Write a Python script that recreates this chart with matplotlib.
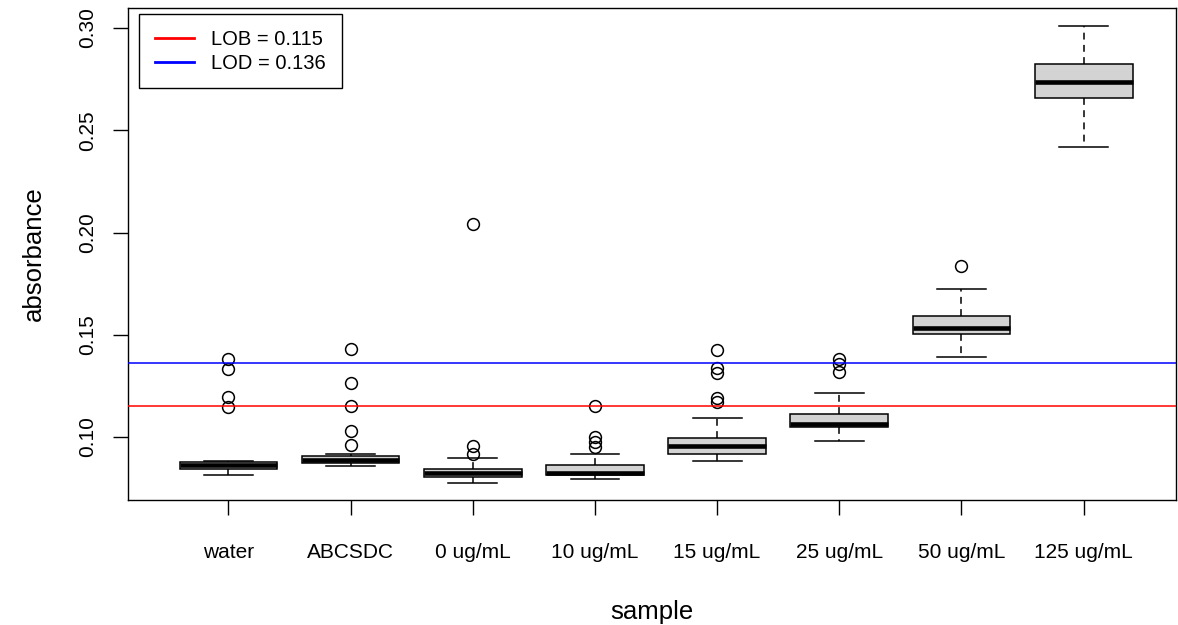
import matplotlib
matplotlib.use("Agg")
import matplotlib.pyplot as plt
from matplotlib.lines import Line2D

plt.rcParams['font.family'] = ['Liberation Sans', 'DejaVu Sans']

labels = ["water", "ABCSDC", "0 ug/mL", "10 ug/mL", "15 ug/mL", "25 ug/mL", "50 ug/mL", "125 ug/mL"]
q1 = [0.0845, 0.0871, 0.0803, 0.0813, 0.0917, 0.1047, 0.1504, 0.2656]
med = [0.0863, 0.0889, 0.0826, 0.0826, 0.0957, 0.1065, 0.1531, 0.2738]
q3 = [0.0878, 0.0907, 0.0845, 0.0863, 0.0995, 0.1112, 0.1592, 0.2826]
whislo = [0.0816, 0.0857, 0.0777, 0.0796, 0.0883, 0.0982, 0.1393, 0.2420]
whishi = [0.0884, 0.0915, 0.0896, 0.0915, 0.1094, 0.1214, 0.1722, 0.3010]
fliers = [
    [0.1380, 0.1331, 0.1197, 0.1145],
    [0.1430, 0.1266, 0.1152, 0.1029, 0.0961],
    [0.2040, 0.0957, 0.0917],
    [0.1153, 0.0999, 0.0974, 0.0953],
    [0.1425, 0.1336, 0.1311, 0.1189, 0.1173],
    [0.1380, 0.1355, 0.1320],
    [0.1838],
    [],
]
lob = 0.115
lod = 0.136

stats = []
for i in range(len(labels)):
    stats.append(dict(label=labels[i], q1=q1[i], med=med[i], q3=q3[i],
                      whislo=whislo[i], whishi=whishi[i], fliers=fliers[i]))

fig = plt.figure(figsize=(11.78, 6.25), dpi=100)
W, H = 1178, 625
L, R, T, B = 128, 1176, 8, 500
ax = fig.add_axes([L / W, 1 - B / H, (R - L) / W, (B - T) / H])

positions = list(range(1, len(labels) + 1))
ax.bxp(stats, positions=positions, widths=0.8, patch_artist=True,
       boxprops=dict(facecolor="#D3D3D3", edgecolor="black", linewidth=1.1),
       medianprops=dict(color="black", linewidth=3.3, solid_capstyle="butt"),
       whiskerprops=dict(color="black", linewidth=1.1, linestyle=(0, (4.5, 3.5))),
       capprops=dict(color="black", linewidth=1.1),
       capwidths=0.4,
       flierprops=dict(marker="o", markerfacecolor="none", markeredgecolor="black",
                       markersize=8.5, markeredgewidth=1.1, linestyle="none"))

ax.axhline(lob, color="red", linewidth=1.1, zorder=5)
ax.axhline(lod, color="blue", linewidth=1.1, zorder=5)

ax.set_xlim(0.178, 8.756)
ax.set_ylim(0.0692, 0.3098)
ax.set_xticks(positions)
ax.set_xticklabels(labels)
ax.set_yticks([0.10, 0.15, 0.20, 0.25, 0.30])
ax.set_yticklabels(["0.10", "0.15", "0.20", "0.25", "0.30"])
ax.tick_params(axis="x", length=11, width=1.0, pad=20, labelsize=15)
ax.tick_params(axis="y", length=11, width=1.0, pad=11, labelsize=15)
for t in ax.get_yticklabels():
    t.set_rotation(90)
    t.set_va("center")
    t.set_ha("right")
for s in ax.spines.values():
    s.set_linewidth(1.0)
    s.set_color("black")

ax.set_xlabel("sample", fontsize=18.5)
ax.set_ylabel("absorbance", fontsize=18.5)
ax.xaxis.set_label_coords(0.5, (B - 600) / (B - T))
ax.yaxis.set_label_coords((46 - L) / (R - L), 0.5)

handles = [Line2D([], [], color="red", linewidth=2.0),
           Line2D([], [], color="blue", linewidth=2.0)]
leg = ax.legend(handles, ["LOB = 0.115", "LOD = 0.136"], loc="upper left",
                bbox_to_anchor=((139 - L) / (R - L), 1 - (14 - T) / (B - T)),
                borderaxespad=0, fontsize=14.5, handlelength=1.95, handletextpad=0.85,
                borderpad=0.78, labelspacing=0.25, fancybox=False, framealpha=1,
                edgecolor="black")
leg.get_frame().set_linewidth(1.0)
leg.set_zorder(10)

fig.savefig("out.png", dpi=100)
